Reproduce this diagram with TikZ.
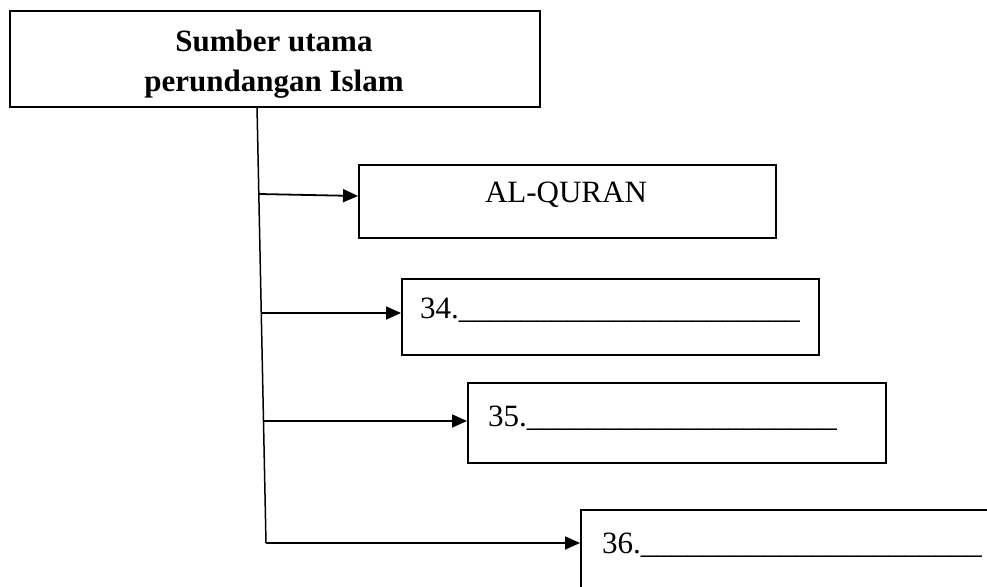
\documentclass[tikz,border=0pt]{standalone}
\usepackage{fontspec}
\setmainfont{Liberation Serif}
\usetikzlibrary{arrows.meta}
\begin{document}
\begin{tikzpicture}[x=1pt,y=-1pt,
  box/.style={draw, line width=1.8pt, inner sep=0pt, anchor=north west},
  lbl/.style={inner sep=0pt, anchor=base west, font=\fontsize{31}{37}\selectfont},
  arr/.style={line width=1.8pt, -{Triangle[length=15pt,width=13pt]}},
  stem/.style={line width=1.5pt}]
\useasboundingbox (0,0) rectangle (987,586);
% boxes
\node[box, minimum width=530pt, minimum height=96pt] (title) at (9,10) {};
\node[box, minimum width=417pt, minimum height=73pt] (quran) at (358,164) {};
\node[box, minimum width=417pt, minimum height=76pt] (b34) at (401,278) {};
\node[box, minimum width=418pt, minimum height=80pt] (b35) at (467,382) {};
\node[box, minimum width=440pt, minimum height=100pt] (b36) at (580,509) {};
% labels
\node[inner sep=0pt, align=center, font=\fontsize{31}{40}\selectfont\bfseries]
      (tt) at (274,64) {Sumber utama\\perundangan Islam};
\node[inner sep=0pt, font=\fontsize{31}{37}\selectfont] (tq) at (566,195) {AL-QURAN};
\node[lbl] (t34) at (420,318) {34.\_\_\_\_\_\_\_\_\_\_\_\_\_\_\_\_\_\_\_\_\_\_};
\node[lbl] (t35) at (488,426) {35.\_\_\_\_\_\_\_\_\_\_\_\_\_\_\_\_\_\_\_\_};
\node[lbl] (t36) at (602,553) {36.\_\_\_\_\_\_\_\_\_\_\_\_\_\_\_\_\_\_\_\_\_\_};
% stem
\coordinate (s0) at (257,106);
\coordinate (s1) at (259,194);
\coordinate (s2) at (261,313);
\coordinate (s3) at (263.5,421);
\coordinate (s4) at (266,543);
\draw[stem] (s0) -- (s4);
\draw[arr] (s1) -- (quran.west |- 0,196);
\draw[arr] (s2) -- (b34.west |- 0,313);
\draw[arr] (s3) -- (b35.west |- 0,421);
\draw[arr] (s4) -- (b36.west |- 0,543);
\end{tikzpicture}
\end{document}
